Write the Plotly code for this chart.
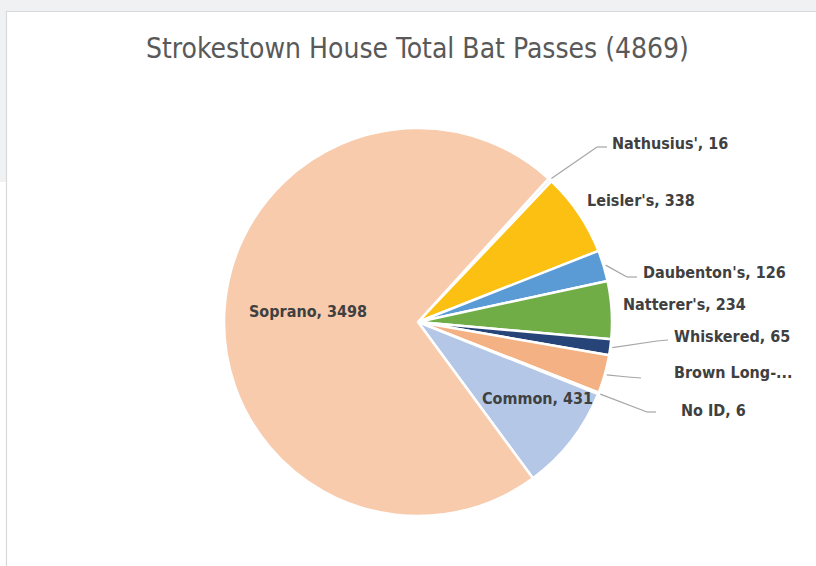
import math
import plotly.graph_objects as go

W, H = 816, 566

species = ["Nathusius'", "Leisler's", "Daubenton's", "Natterer's", "Whiskered",
           "Brown Long-eared", "No ID", "Common", "Soprano"]
passes = [16, 338, 126, 234, 65, 155, 6, 431, 3498]
label_text = ["Nathusius', 16", "Leisler's, 338", "Daubenton's, 126", "Natterer's, 234",
              "Whiskered, 65", "Brown Long-...", "No ID, 6", "Common, 431", "Soprano, 3498"]
colors = ["#F2F2F2", "#FCC012", "#5B9BD5", "#70AD47", "#264478",
          "#F4B183", "#EDEDED", "#B4C7E7", "#F8CBAD"]
title = "Strokestown House Total Bat Passes (4869)"

# layout geometry (pixels)
CX, CY, R = 418, 322, 194
ROT = 42.3
FONT = "Liberation Sans Narrow, DejaVu Sans Condensed, Lato, sans-serif"

def px(x):
    return x / W

def py(y):
    return 1 - y / H

fig = go.Figure(go.Pie(
    labels=species, values=passes, sort=False, direction="clockwise",
    rotation=ROT, marker=dict(colors=colors, line=dict(color="white", width=2.5)),
    textinfo="none", showlegend=False,
    domain=dict(x=[px(CX - R), px(CX + R)], y=[py(CY + R), py(CY - R)]),
))

# label placement (style/layout): (anchor, x, y, elbow points) in pixels
placement = {
    "Nathusius'": ("left", 610, 143, [(597, 147), (607, 147)]),
    "Leisler's": ("left", 585, 200, None),
    "Daubenton's": ("left", 641, 272, [(627, 277), (637, 277)]),
    "Natterer's": ("left", 621, 304, None),
    "Whiskered": ("left", 672, 336, [(657, 341), (668, 340)]),
    "Brown Long-eared": ("left", 672, 372, [(628, 377), (641, 378)]),
    "No ID": ("left", 679, 410, [(647, 412), (656, 412)]),
    "Common": ("center", 537, 398, None),
    "Soprano": ("center", 308, 311, None),
}

shapes = [
    dict(type="rect", xref="paper", yref="paper", x0=0, x1=1, y0=py(12), y1=1,
         fillcolor="#F0F1F3", line=dict(width=0), layer="below"),
    dict(type="rect", xref="paper", yref="paper", x0=0, x1=px(7), y0=py(182), y1=1,
         fillcolor="#F0F1F3", line=dict(width=0), layer="below"),
    dict(type="rect", xref="paper", yref="paper", x0=px(6.5), x1=px(830), y0=py(580), y1=py(11.5),
         fillcolor="white", line=dict(color="#D9D9D9", width=1.2), layer="below"),
]

annotations = [dict(text=title, x=px(418), y=py(48), xref="paper", yref="paper",
                    showarrow=False, xanchor="center", yanchor="middle",
                    font=dict(family=FONT, size=28, color="#595959"))]

total = sum(passes)
cum = 0
for name, v, txt in zip(species, passes, label_text):
    mid = ROT + (cum + v / 2) / total * 360
    cum += v
    anchor, lx, ly, elbow = placement[name]
    annotations.append(dict(text="<b>" + txt + "</b>", x=px(lx), y=py(ly), xref="paper", yref="paper",
                            showarrow=False, xanchor=anchor, yanchor="middle",
                            font=dict(family=FONT, size=16, color="#404040")))
    if elbow:
        a = math.radians(mid)
        sx, sy = CX + (R + 2) * math.sin(a), CY - (R + 2) * math.cos(a)
        pts = [(sx, sy)] + elbow
        for (x0, y0), (x1, y1) in zip(pts[:-1], pts[1:]):
            shapes.append(dict(type="line", xref="paper", yref="paper",
                               x0=px(x0), y0=py(y0), x1=px(x1), y1=py(y1),
                               line=dict(color="#A6A6A6", width=1.2)))

fig.update_layout(width=W, height=H, margin=dict(l=0, r=0, t=0, b=0),
                  paper_bgcolor="white", plot_bgcolor="white",
                  shapes=shapes, annotations=annotations)
fig.write_html("out.html", config={"displayModeBar": False},
               post_script="document.body.style.margin='0';document.body.style.overflow='hidden';")
